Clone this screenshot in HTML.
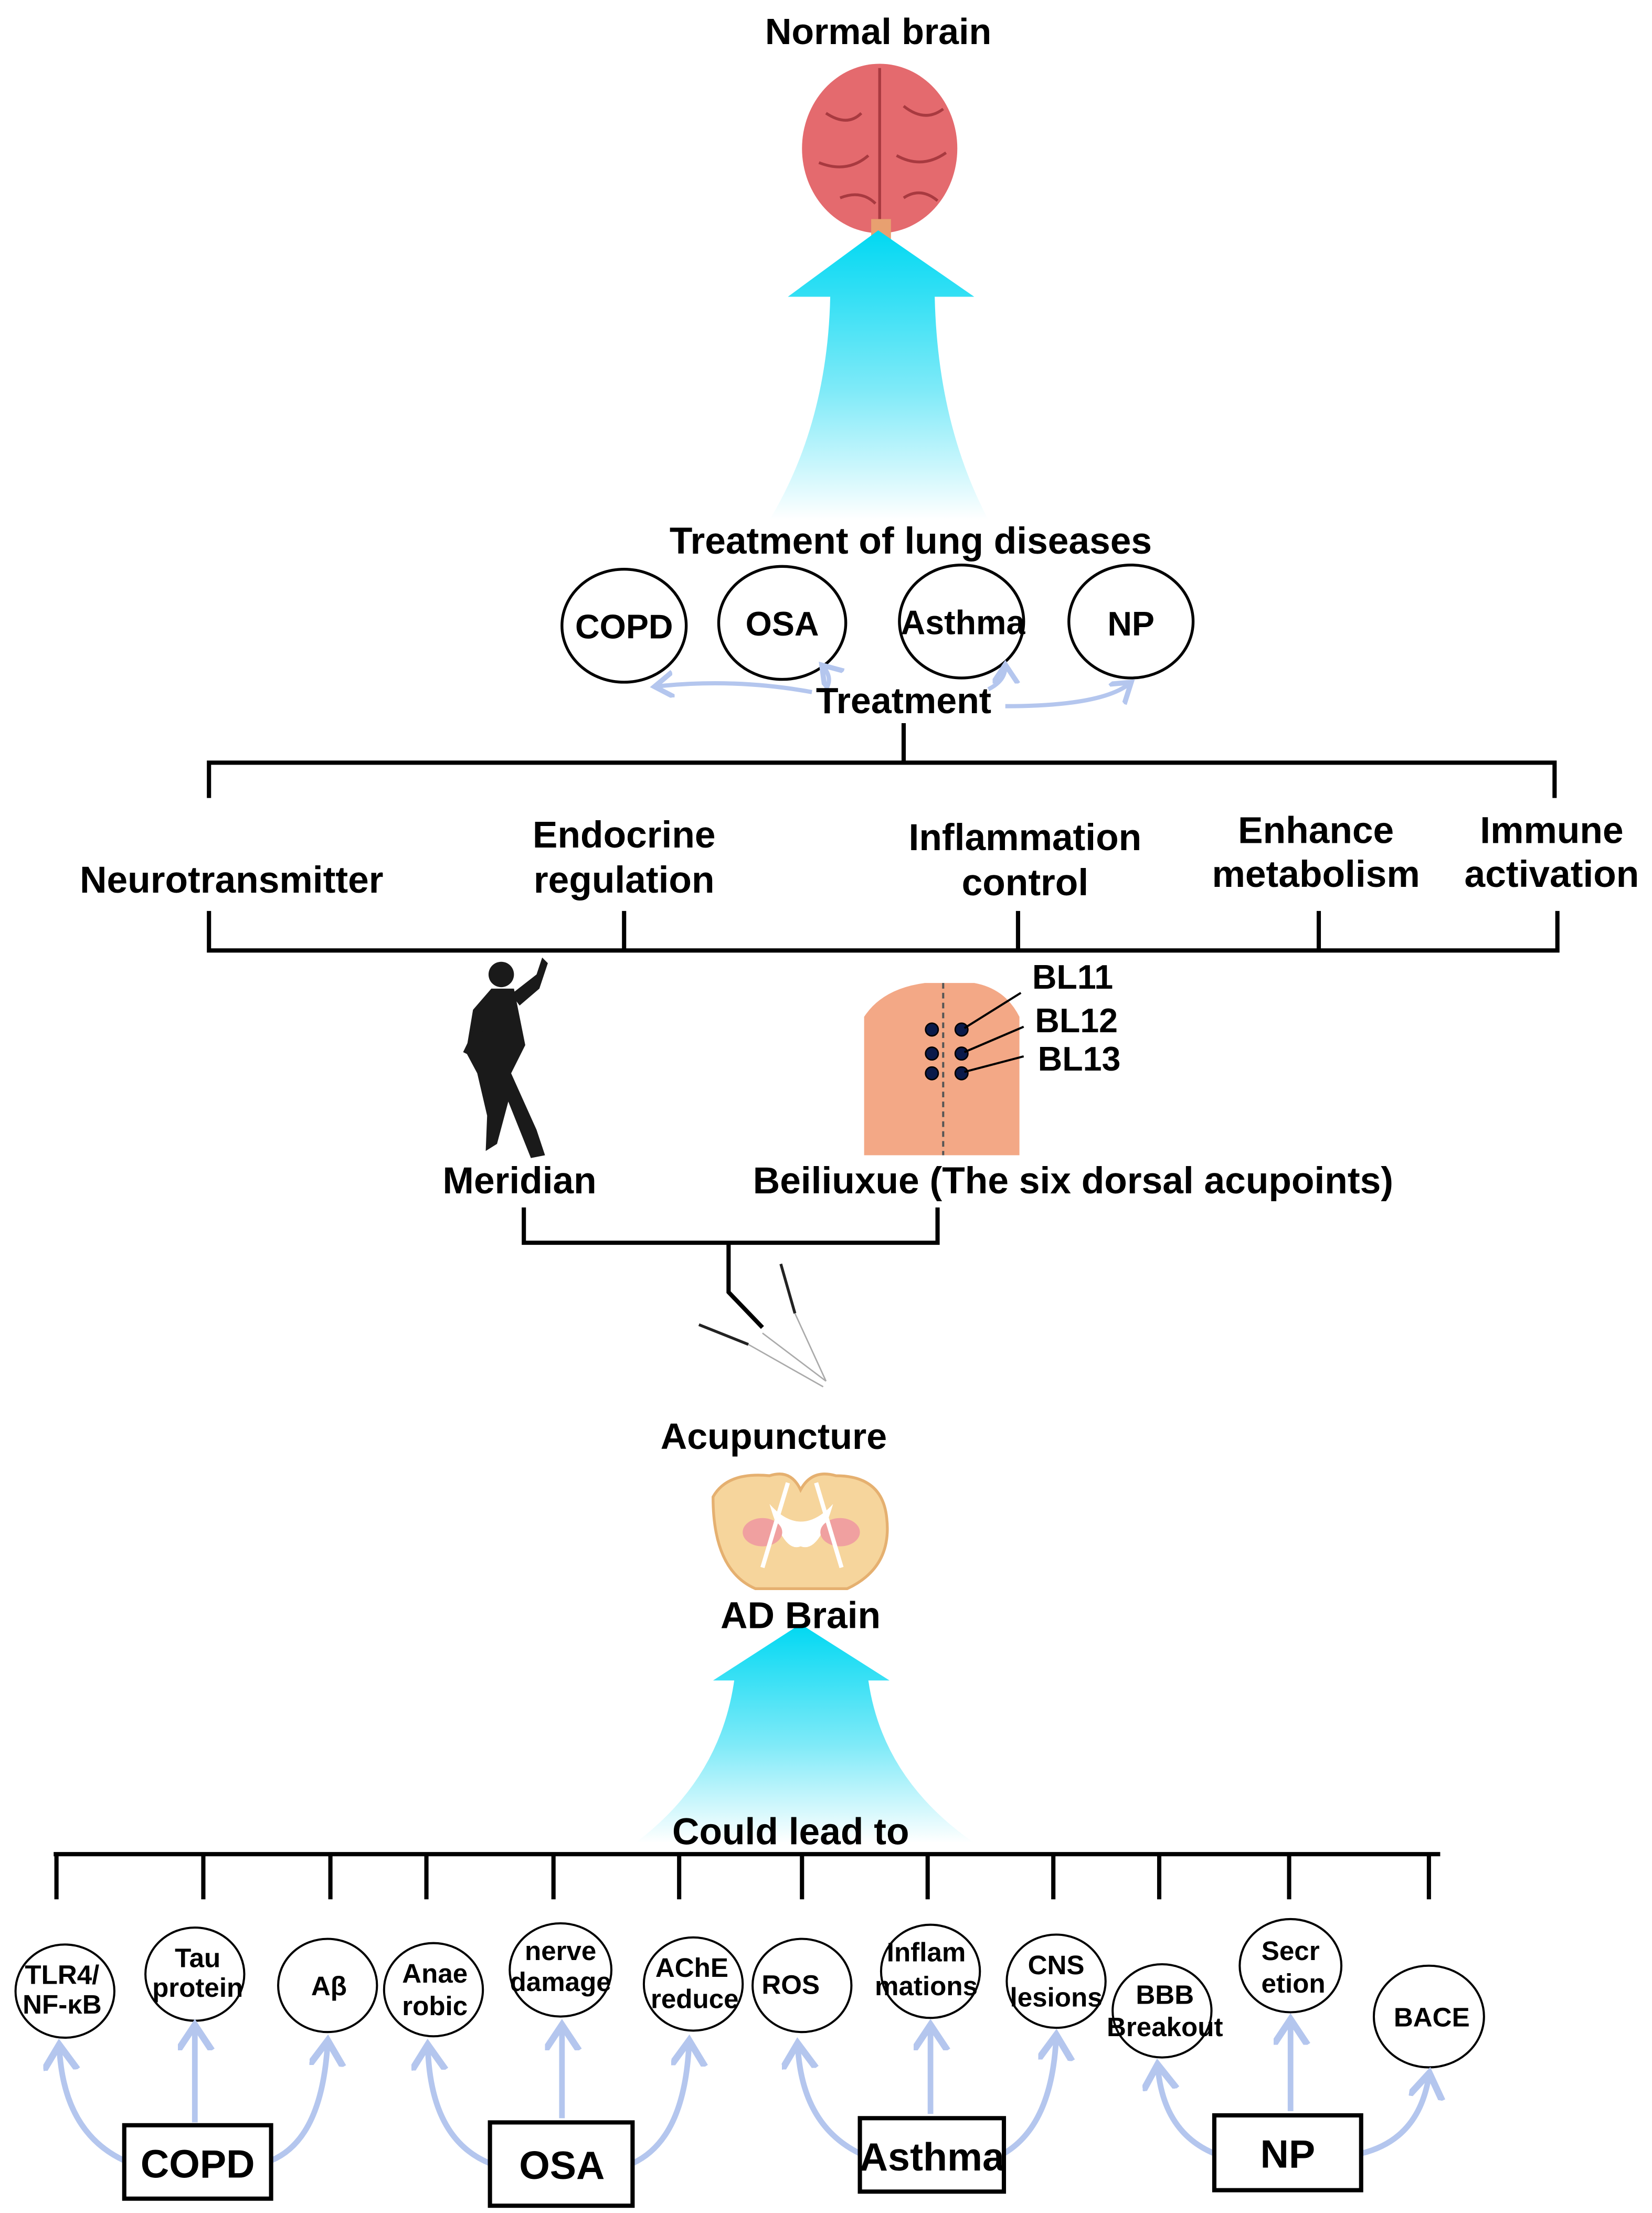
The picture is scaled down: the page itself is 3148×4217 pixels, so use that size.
<!DOCTYPE html>
<html><head><meta charset="utf-8"><style>
html,body{margin:0;padding:0;background:#fff}
svg{display:block}
text{font-family:"Liberation Sans",Arial,sans-serif;font-weight:bold;fill:#000}
</style></head><body>
<svg width="3148" height="4217" viewBox="0 0 1170 1567" xmlns="http://www.w3.org/2000/svg">
<defs>
<linearGradient id="cy" x1="0" y1="0" x2="0" y2="1">
<stop offset="0" stop-color="#00d8f2"/><stop offset="0.55" stop-color="#7eeaf8"/><stop offset="1" stop-color="#ffffff"/></linearGradient>
<marker id="ah" markerWidth="8" markerHeight="8" refX="4" refY="3" orient="auto" markerUnits="strokeWidth">
<path d="M0,0 L4.5,3 L0,6" fill="none" stroke="#b4c6ee" stroke-width="1.2"/></marker>
</defs>
<rect width="1170" height="1567" fill="#fff"/>

<text x="622" y="31" font-size="26" text-anchor="middle">Normal brain</text>
<ellipse cx="623" cy="105" rx="55" ry="60" fill="#e46a6e"/>
<path d="M623,48 L623,160" stroke="#a83a40" stroke-width="2"/>
<path d="M585,80 q15,10 25,0 M640,75 q15,12 28,2 M580,115 q20,8 35,-5 M635,110 q18,10 35,-2 M595,140 q15,-6 25,4 M640,140 q12,-8 24,2" stroke="#a83a40" stroke-width="2" fill="none"/>
<rect x="617" y="155" width="14" height="18" fill="#e8a070"/>
<path d="M622,163 L690,210 L662,210 Q664,300 700,368 L545,368 Q586,300 588,210 L558,210 Z" fill="url(#cy)"/>

<text x="645" y="392" font-size="26.5" text-anchor="middle">Treatment of lung diseases</text>
<g fill="none" stroke="#000" stroke-width="2">
<ellipse cx="442" cy="443" rx="44" ry="40"/><ellipse cx="554" cy="441" rx="45" ry="40"/>
<ellipse cx="681" cy="440" rx="44" ry="40"/><ellipse cx="801" cy="440" rx="44" ry="40"/>
</g>
<g font-size="24" text-anchor="middle">
<text x="442" y="452">COPD</text><text x="554" y="450">OSA</text><text x="682" y="449">Asthma</text><text x="801" y="450">NP</text></g>
<g fill="none" stroke="#b4c6ee" stroke-width="3" marker-end="url(#ah)">
<path d="M575,490 Q520,480 465,486"/><path d="M585,488 Q590,480 583,472"/>
<path d="M700,488 Q712,482 712,472"/><path d="M712,500 Q780,500 800,484"/></g>
<text x="640" y="505" font-size="26" text-anchor="middle">Treatment</text>

<g stroke="#000" stroke-width="3" fill="none">
<path d="M640,512 V540 M148,565 V540 H1101 V565"/>
<path d="M148,645 V673 H1103 V645 M442,645 V673 M721,645 V673 M934,645 V673"/>
<path d="M371,855 V880 H664 V855 M516,880 V915 L540,940"/>
</g>
<g font-size="26.5" text-anchor="middle">
<text x="164" y="632">Neurotransmitter</text>
<text x="442" y="600">Endocrine</text><text x="442" y="632">regulation</text>
<text x="726" y="602">Inflammation</text><text x="726" y="634">control</text>
<text x="932" y="597">Enhance</text><text x="932" y="628">metabolism</text>
<text x="1099" y="597">Immune</text><text x="1099" y="628">activation</text>
</g>

<g fill="#1a1a1a">
<circle cx="355" cy="690" r="9"/>
<path d="M348,700 L364,700 L372,740 L362,760 L380,800 L386,818 L376,820 L360,780 L352,810 L344,815 L345,790 L338,760 L330,745 L335,715 Z"/>
<path d="M362,704 L380,690 L384,678 L388,682 L382,700 L368,712 Z"/>
<path d="M340,720 L328,745 L334,748 L344,725 Z"/>
</g>
<path d="M612,818 L612,720 Q625,700 655,696 L690,696 Q712,700 722,720 L722,818 Z" fill="#f3a886"/>
<path d="M668,696 V818" stroke="#555" stroke-width="1.5" stroke-dasharray="4,3"/>
<g fill="#0a1a4a" stroke="#000" stroke-width="1"><circle cx="660" cy="729" r="4.5"/><circle cx="681" cy="729" r="4.5"/><circle cx="660" cy="746" r="4.5"/><circle cx="681" cy="746" r="4.5"/><circle cx="660" cy="760" r="4.5"/><circle cx="681" cy="760" r="4.5"/></g>
<g stroke="#000" stroke-width="1.5"><path d="M683,728 L723,703 M683,745 L725,727 M683,759 L725,748"/></g>
<g font-size="24"><text x="731" y="700">BL11</text><text x="733" y="731">BL12</text><text x="735" y="758">BL13</text></g>

<g font-size="26.5" text-anchor="middle"><text x="368" y="845">Meridian</text><text x="760" y="845">Beiliuxue (The six dorsal acupoints)</text></g>

<g stroke="#222" stroke-width="2"><path d="M495,938 L530,952 M553,895 L563,930"/></g>
<g stroke="#aaa" stroke-width="1"><path d="M530,952 L583,982 M540,944 L585,978 M563,930 L585,978"/></g>
<text x="548" y="1026" font-size="26" text-anchor="middle">Acupuncture</text>

<path d="M505,1060 Q515,1042 545,1045 Q560,1040 567,1055 Q575,1040 592,1045 Q625,1045 628,1075 Q632,1110 600,1125 L535,1125 Q505,1112 505,1060 Z" fill="#f6d59c" stroke="#e5b070" stroke-width="2"/>
<path d="M545,1065 Q567,1090 590,1065 Q580,1100 567,1095 Q555,1100 545,1065 Z" fill="#fff"/>
<ellipse cx="540" cy="1085" rx="14" ry="10" fill="#f0a0a0"/><ellipse cx="595" cy="1085" rx="14" ry="10" fill="#f0a0a0"/>
<path d="M558,1050 L540,1110 M578,1050 L596,1110" stroke="#ffffff" stroke-width="3"/>

<path d="M567,1150 L630,1190 L615,1190 Q625,1260 690,1305 L450,1305 Q510,1260 520,1190 L505,1190 Z" fill="url(#cy)"/>
<text x="567" y="1153" font-size="26.5" text-anchor="middle">AD Brain</text>
<text x="560" y="1306" font-size="26.5" text-anchor="middle">Could lead to</text>

<g stroke="#000" stroke-width="3" fill="none">
<path d="M38,1313 H1020"/>
<path d="M40,1313V1345 M144,1313V1345 M234,1313V1345 M302,1313V1345 M392,1313V1345 M481,1313V1345 M568,1313V1345 M657,1313V1345 M746,1313V1345 M821,1313V1345 M913,1313V1345 M1012,1313V1345"/>
</g>
<g fill="#fff" stroke="#000" stroke-width="1.5">
<ellipse cx="46" cy="1410" rx="35" ry="33"/><ellipse cx="138" cy="1398" rx="35" ry="33"/>
<ellipse cx="232" cy="1406" rx="35" ry="33"/><ellipse cx="307" cy="1409" rx="35" ry="33"/>
<ellipse cx="397" cy="1395" rx="36" ry="33"/><ellipse cx="491" cy="1405" rx="35" ry="33"/>
<ellipse cx="568" cy="1406" rx="35" ry="33"/><ellipse cx="659" cy="1396" rx="35" ry="33"/>
<ellipse cx="748" cy="1403" rx="35" ry="33"/><ellipse cx="823" cy="1424" rx="35" ry="33"/>
<ellipse cx="914" cy="1392" rx="36" ry="33"/><ellipse cx="1012" cy="1428" rx="39" ry="36"/>
</g>
<g font-size="19" text-anchor="middle">
<text x="44" y="1405">TLR4/</text><text x="44" y="1426">NF-κB</text>
<text x="140" y="1393">Tau</text><text x="140" y="1414">protein</text>
<text x="233" y="1413">Aβ</text>
<text x="308" y="1404">Anae</text><text x="308" y="1427">robic</text>
<text x="397" y="1388">nerve</text><text x="397" y="1410">damage</text>
<text x="490" y="1400">AChE</text><text x="492" y="1422">reduce</text>
<text x="560" y="1412">ROS</text>
<text x="656" y="1389">Inflam</text><text x="656" y="1413">mations</text>
<text x="748" y="1398">CNS</text><text x="748" y="1421">lesions</text>
<text x="825" y="1419">BBB</text><text x="825" y="1442">Breakout</text>
<text x="914" y="1388">Secr</text><text x="916" y="1411">etion</text>
<text x="1014" y="1435">BACE</text>
</g>

<g fill="none" stroke="#b4c6ee" stroke-width="4" marker-end="url(#ah)">
<path d="M88,1530 Q45,1510 42,1450"/><path d="M138,1503 V1436"/><path d="M192,1530 Q228,1515 232,1447"/>
<path d="M347,1532 Q305,1515 303,1450"/><path d="M398,1500 V1436"/><path d="M448,1532 Q485,1515 488,1447"/>
<path d="M609,1525 Q568,1505 565,1449"/><path d="M659,1497 V1436"/><path d="M711,1525 Q745,1505 748,1443"/>
<path d="M860,1525 Q824,1510 820,1464"/><path d="M914,1495 V1432"/><path d="M964,1525 Q1005,1515 1012,1470"/>
</g>
<g fill="#fff" stroke="#000" stroke-width="3">
<rect x="88" y="1505" width="104" height="52"/><rect x="347" y="1503" width="101" height="59"/>
<rect x="609" y="1500" width="102" height="52"/><rect x="860" y="1498" width="104" height="53"/>
</g>
<g font-size="28" text-anchor="middle">
<text x="140" y="1542">COPD</text><text x="398" y="1543">OSA</text><text x="660" y="1537">Asthma</text><text x="912" y="1535">NP</text></g>
</svg>
</body></html>
